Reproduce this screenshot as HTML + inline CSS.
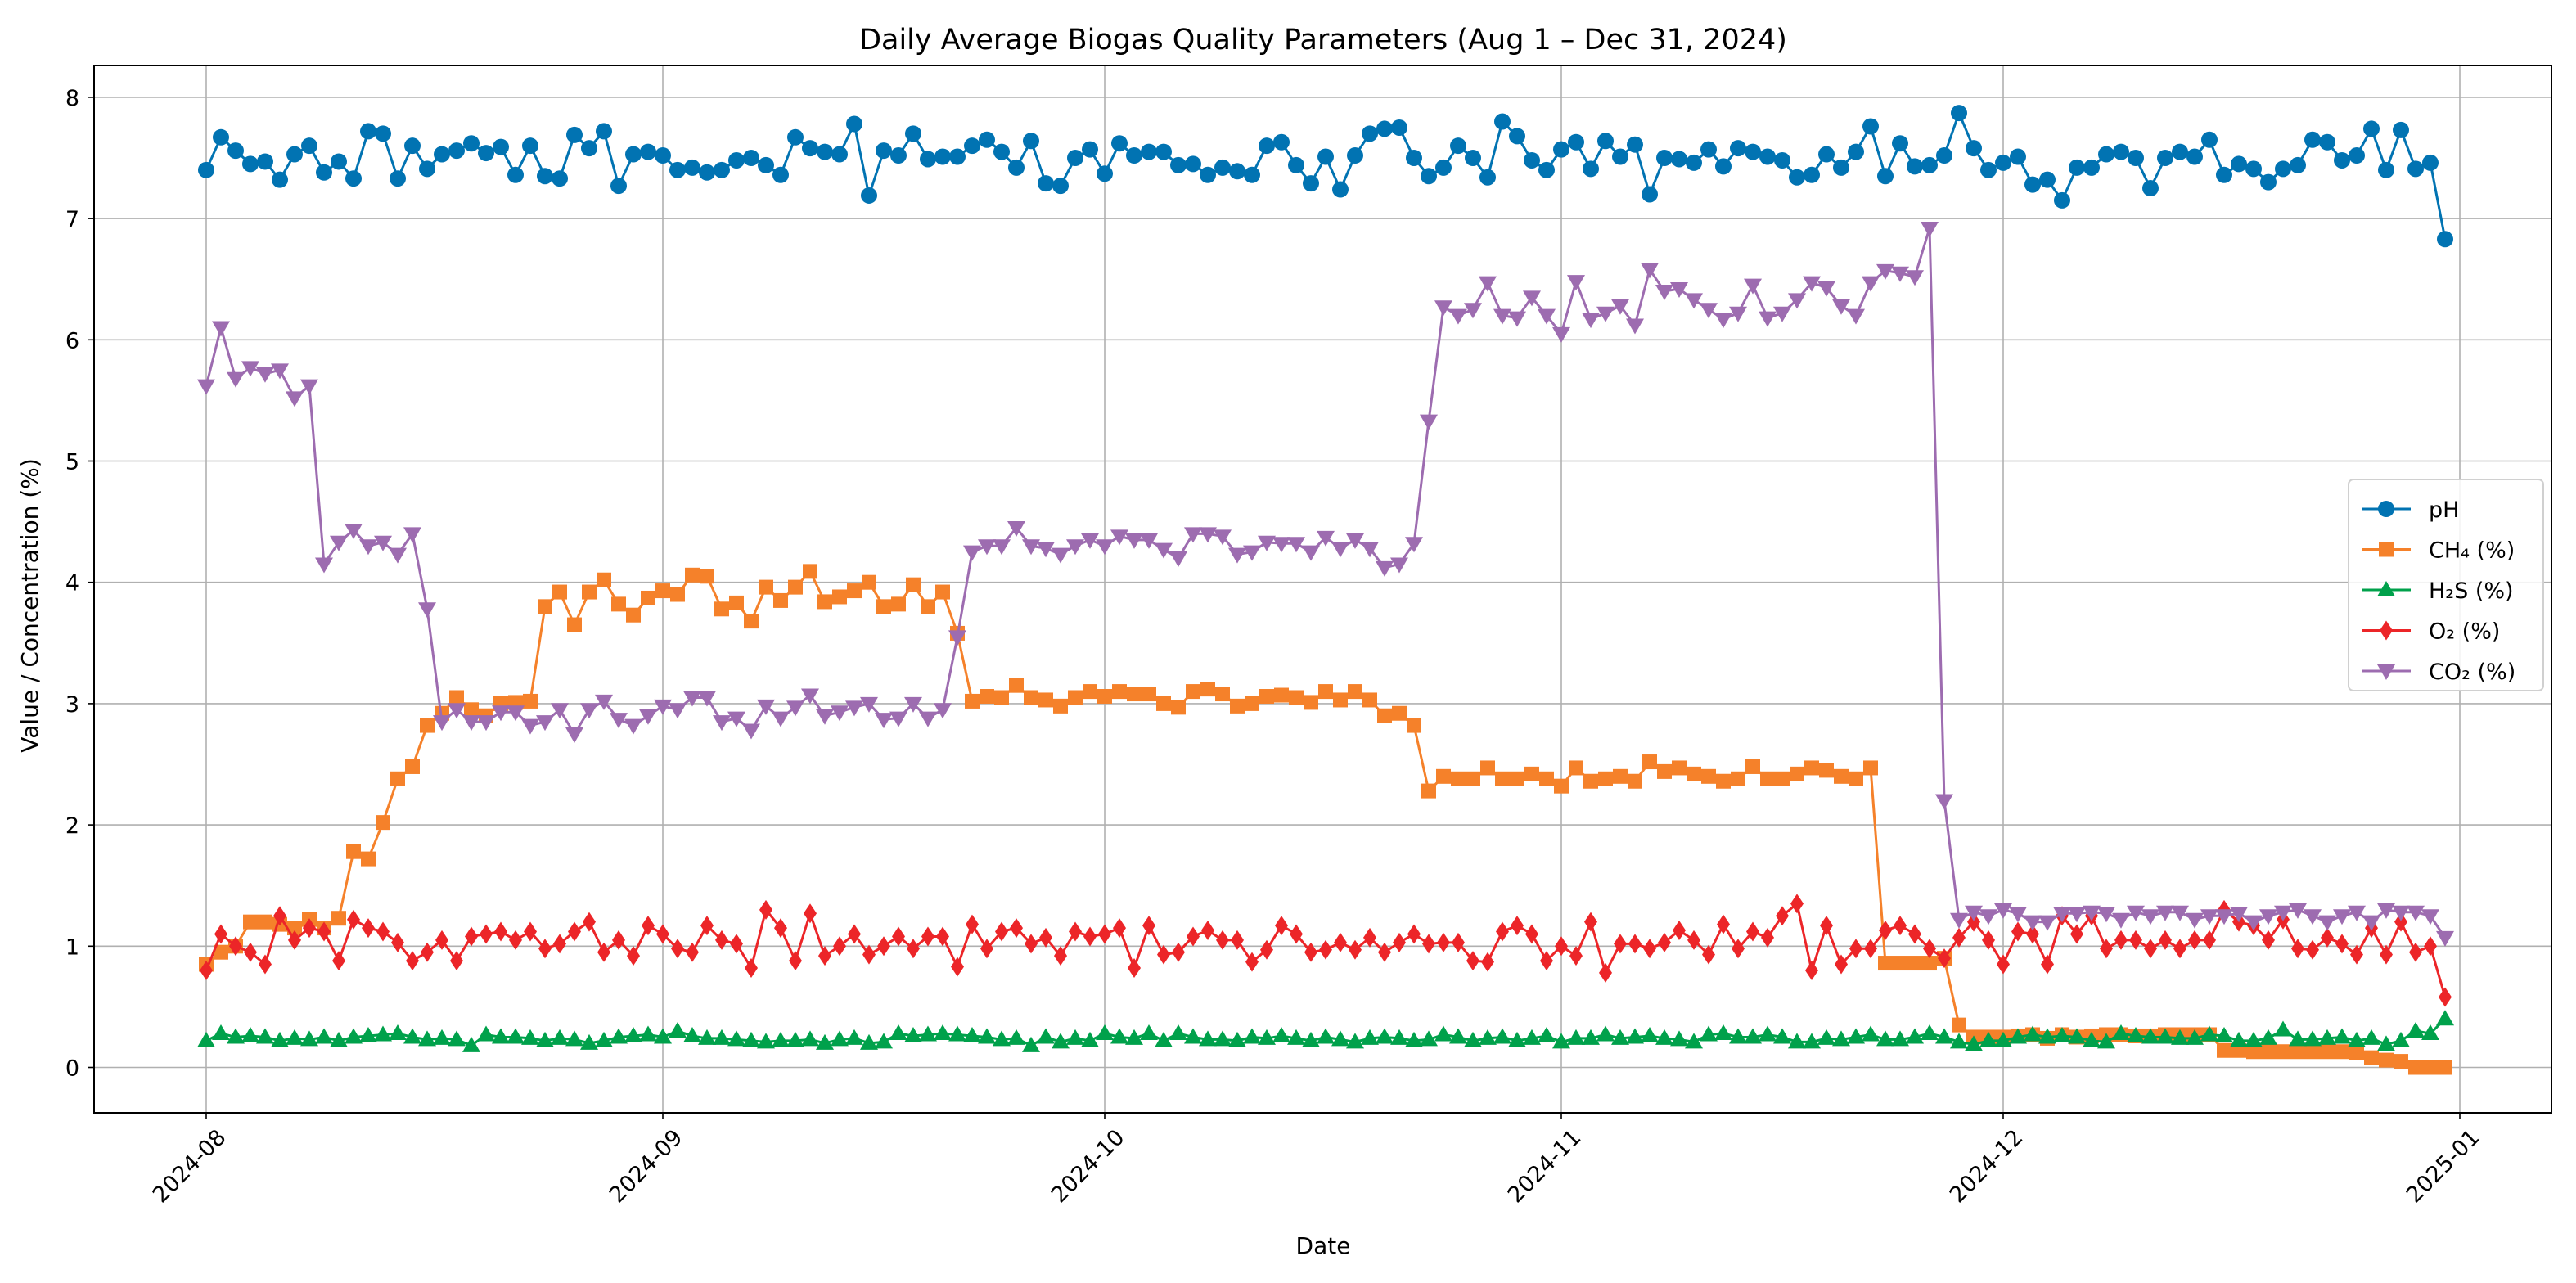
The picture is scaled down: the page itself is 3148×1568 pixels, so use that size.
<!DOCTYPE html>
<html><head><meta charset="utf-8"><style>
html,body{margin:0;padding:0;background:#fff;}
svg{display:block;font-family:"DejaVu Sans","Liberation Sans",sans-serif;}
</style></head><body>
<svg id="chart" width="3148" height="1568" viewBox="0 0 3148 1568" xmlns="http://www.w3.org/2000/svg">
<rect x="0" y="0" width="3148" height="1568" fill="#fff"/>
<text x="1617" y="60" font-size="35" text-anchor="middle" fill="#000">Daily Average Biogas Quality Parameters (Aug 1 – Dec 31, 2024)</text>
<g id="grid"></g>
<g id="series"></g>
<rect x="115" y="80" width="3003" height="1280" fill="none" stroke="#000" stroke-width="2"/>
<g id="axes"></g>
<text x="1617" y="1532" font-size="28" text-anchor="middle">Date</text>
<text transform="translate(46,740) rotate(-90)" font-size="28" text-anchor="middle">Value / Concentration (%)</text>
<g id="legend"></g>
</svg>
<script>
const phVals=[7.40,7.67,7.56,7.45,7.47,7.32,7.53,7.60,7.38,7.47,7.33,7.72,7.70,7.33,7.60,7.41,7.53,7.56,7.62,7.54,7.59,7.36,7.60,7.35,7.33,7.69,7.58,7.72,7.27,7.53,7.55,
7.52,7.40,7.42,7.38,7.40,7.48,7.50,7.44,7.36,7.67,7.58,7.55,7.53,7.78,7.19,7.56,7.52,7.70,7.49,7.51,7.51,7.60,7.65,7.55,7.42,7.64,7.29,7.27,7.50,7.57,
7.37,7.62,7.52,7.55,7.55,7.44,7.45,7.36,7.42,7.39,7.36,7.60,7.63,7.44,7.29,7.51,7.24,7.52,7.70,7.74,7.75,7.50,7.35,7.42,7.60,7.50,7.34,7.80,7.68,7.48,7.40,
7.57,7.63,7.41,7.64,7.51,7.61,7.20,7.50,7.49,7.46,7.57,7.43,7.58,7.55,7.51,7.48,7.34,7.36,7.53,7.42,7.55,7.76,7.35,7.62,7.43,7.44,7.52,7.87,7.58,7.40,
7.46,7.51,7.28,7.32,7.15,7.42,7.42,7.53,7.55,7.50,7.25,7.50,7.55,7.51,7.65,7.36,7.45,7.41,7.30,7.41,7.44,7.65,7.63,7.48,7.52,7.74,7.40,7.73,7.41,7.46,6.83];
const ch4Vals=[0.85,0.95,1.00,1.20,1.20,1.18,1.15,1.22,1.15,1.23,1.78,1.72,2.02,2.38,2.48,2.82,2.92,3.05,2.95,2.90,3.00,3.01,3.02,3.80,3.92,3.65,3.92,4.02,3.82,3.73,3.87,
3.93,3.90,4.06,4.05,3.78,3.83,3.68,3.96,3.85,3.96,4.09,3.84,3.88,3.93,4.00,3.80,3.82,3.98,3.80,3.92,3.58,3.02,3.06,3.05,3.15,3.05,3.03,2.98,3.05,3.10,
3.06,3.10,3.08,3.08,3.00,2.97,3.10,3.12,3.08,2.98,3.00,3.06,3.07,3.05,3.01,3.10,3.03,3.10,3.03,2.90,2.92,2.82,2.28,2.40,2.38,2.38,2.47,2.38,2.38,2.42,2.38,
2.32,2.47,2.36,2.38,2.40,2.36,2.52,2.44,2.47,2.42,2.40,2.36,2.38,2.48,2.38,2.38,2.42,2.47,2.45,2.40,2.38,2.47,0.86,0.86,0.86,0.86,0.90,0.35,0.25,0.25,
0.25,0.26,0.27,0.24,0.27,0.25,0.26,0.27,0.27,0.26,0.26,0.27,0.27,0.27,0.27,0.14,0.14,0.13,0.13,0.13,0.13,0.13,0.13,0.13,0.12,0.08,0.06,0.05,0.00,0.00,0.00];
const h2sVals=[0.22,0.28,0.25,0.26,0.25,0.22,0.24,0.23,0.25,0.22,0.25,0.26,0.27,0.28,0.25,0.23,0.24,0.23,0.18,0.27,0.25,0.25,0.24,0.22,0.24,0.23,0.20,0.22,0.25,0.26,0.27,
0.25,0.30,0.26,0.24,0.24,0.23,0.22,0.21,0.22,0.22,0.23,0.20,0.23,0.24,0.20,0.21,0.28,0.26,0.27,0.28,0.27,0.26,0.25,0.23,0.24,0.18,0.25,0.21,0.24,0.22,
0.28,0.25,0.24,0.28,0.22,0.28,0.25,0.23,0.23,0.22,0.25,0.24,0.26,0.24,0.22,0.25,0.23,0.21,0.24,0.25,0.24,0.22,0.23,0.27,0.25,0.22,0.24,0.25,0.22,0.24,0.26,
0.21,0.24,0.24,0.27,0.24,0.25,0.26,0.24,0.23,0.21,0.27,0.28,0.25,0.25,0.27,0.25,0.21,0.21,0.24,0.23,0.25,0.27,0.23,0.23,0.25,0.28,0.25,0.21,0.19,0.22,
0.22,0.25,0.27,0.25,0.26,0.25,0.22,0.21,0.28,0.26,0.25,0.25,0.24,0.24,0.27,0.26,0.22,0.22,0.24,0.31,0.23,0.23,0.24,0.25,0.22,0.24,0.19,0.22,0.30,0.28,0.40];
const o2Vals=[0.80,1.10,1.00,0.95,0.85,1.25,1.05,1.15,1.12,0.88,1.22,1.15,1.12,1.03,0.88,0.95,1.05,0.88,1.08,1.10,1.12,1.05,1.12,0.98,1.02,1.12,1.20,0.95,1.05,0.92,1.17,
1.10,0.98,0.95,1.17,1.05,1.02,0.82,1.30,1.15,0.88,1.27,0.92,1.00,1.10,0.93,1.00,1.08,0.98,1.08,1.08,0.83,1.18,0.98,1.12,1.15,1.02,1.07,0.92,1.12,1.08,
1.10,1.15,0.82,1.17,0.93,0.95,1.08,1.13,1.05,1.05,0.87,0.97,1.17,1.10,0.95,0.97,1.03,0.97,1.07,0.95,1.03,1.10,1.02,1.03,1.03,0.88,0.87,1.12,1.17,1.10,0.88,
1.00,0.92,1.20,0.78,1.02,1.02,0.98,1.03,1.13,1.05,0.93,1.18,0.98,1.12,1.07,1.25,1.35,0.80,1.17,0.85,0.98,0.98,1.13,1.17,1.10,0.98,0.90,1.07,1.20,1.05,
0.85,1.12,1.10,0.85,1.25,1.10,1.25,0.98,1.05,1.05,0.98,1.05,0.98,1.05,1.05,1.30,1.20,1.17,1.05,1.22,0.98,0.97,1.07,1.02,0.93,1.15,0.93,1.20,0.95,1.00,0.58];
const co2Vals=[5.62,6.10,5.68,5.77,5.72,5.75,5.52,5.62,4.15,4.33,4.43,4.30,4.33,4.23,4.40,3.78,2.85,2.95,2.85,2.85,2.93,2.93,2.82,2.85,2.95,2.75,2.95,3.02,2.87,2.82,2.90,
2.98,2.95,3.05,3.05,2.85,2.88,2.78,2.98,2.88,2.97,3.07,2.90,2.93,2.97,3.00,2.87,2.88,3.00,2.88,2.95,3.55,4.25,4.30,4.30,4.45,4.30,4.28,4.23,4.30,4.35,
4.30,4.38,4.35,4.35,4.27,4.20,4.40,4.40,4.38,4.23,4.25,4.33,4.32,4.32,4.25,4.37,4.28,4.35,4.28,4.12,4.15,4.32,5.33,6.27,6.20,6.25,6.47,6.20,6.18,6.35,6.20,
6.05,6.48,6.17,6.22,6.28,6.12,6.58,6.40,6.42,6.33,6.25,6.17,6.22,6.45,6.18,6.22,6.33,6.47,6.43,6.28,6.20,6.47,6.57,6.55,6.52,6.92,2.20,1.22,1.28,1.25,
1.30,1.27,1.20,1.20,1.27,1.27,1.28,1.27,1.22,1.28,1.25,1.28,1.28,1.22,1.25,1.25,1.27,1.20,1.25,1.28,1.30,1.25,1.20,1.25,1.28,1.20,1.30,1.28,1.28,1.25,1.07];
const xTickLabels=["2024-08","2024-09","2024-10","2024-11","2024-12","2025-01"];
const xTickDays=[0,31,61,92,122,153];
const yTickValues=[0,1,2,3,4,5,6,7,8];
const seriesNames=["pH","CH₄ (%)","H₂S (%)","O₂ (%)","CO₂ (%)"];

const NS="http://www.w3.org/2000/svg";
const X0=252, DAY=18.0, Y0=1304.5, UNIT=148.2;
function xs(i){return X0+i*DAY;}
function ys(v){return Y0-v*UNIT;}
function mk(tag,attrs,parent){const e=document.createElementNS(NS,tag);for(const k in attrs)e.setAttribute(k,attrs[k]);parent.appendChild(e);return e;}
const grid=document.getElementById('grid'),axes=document.getElementById('axes'),ser=document.getElementById('series'),leg=document.getElementById('legend');

yTickValues.forEach(v=>{
  const g=mk('line',{x1:115,x2:3118,y1:ys(v),y2:ys(v),stroke:'#b0b0b0','stroke-width':1.6},grid);
  
  
  mk('line',{x1:107,x2:115,y1:ys(v),y2:ys(v),stroke:'#000','stroke-width':1.6},axes);
  const t=mk('text',{x:97,y:ys(v)+10,'font-size':27,'text-anchor':'end'},axes);
  t.textContent=v;
  
  
});
xTickDays.forEach((d,k)=>{
  const x=xs(d);
  const g=mk('line',{x1:x,x2:x,y1:80,y2:1360,stroke:'#b0b0b0','stroke-width':1.6},grid);
  
  
  mk('line',{x1:x,x2:x,y1:1360,y2:1368,stroke:'#000','stroke-width':1.6},axes);
  const t=mk('text',{transform:`translate(${x+12},${1378}) rotate(-45)`,'font-size':27,'text-anchor':'end','dominant-baseline':'hanging'},axes);
  t.textContent=xTickLabels[k];
  
  
});

function marker(type,x,y,color,parent){
  let e;
  if(type==='circle') e=mk('circle',{cx:x,cy:y,r:10,fill:color},parent);
  else if(type==='square') e=mk('rect',{x:x-9,y:y-9,width:18,height:18,fill:color},parent);
  else if(type==='up') e=mk('polygon',{points:`${x},${y-11} ${x+11},${y+8} ${x-11},${y+8}`,fill:color},parent);
  else if(type==='diamond') e=mk('polygon',{points:`${x},${y-12} ${x+8},${y} ${x},${y+12} ${x-8},${y}`,fill:color},parent);
  else e=mk('polygon',{points:`${x},${y+11} ${x+11},${y-8} ${x-11},${y-8}`,fill:color},parent);
  return e;
}
const defs=[
 {vals:phVals,color:'#0173b2',m:'circle',name:'ph'},
 {vals:ch4Vals,color:'#f5812a',m:'square',name:'ch4'},
 {vals:h2sVals,color:'#00a14b',m:'up',name:'h2s'},
 {vals:o2Vals,color:'#ec2528',m:'diamond',name:'o2'},
 {vals:co2Vals,color:'#9d6cb0',m:'down',name:'co2'}];
defs.forEach(s=>{
  const g=mk('g',{},ser);
  
  
  const pts=s.vals.map((v,i)=>xs(i)+','+ys(v)).join(' ');
  const l=mk('polyline',{points:pts,fill:'none',stroke:s.color,'stroke-width':3,'stroke-linejoin':'round'},g);
  
  
  s.vals.forEach((v,i)=>{
    const p=marker(s.m,xs(i),ys(v),s.color,g);
    
    
  });
});

const lb=mk('rect',{x:2870,y:586,width:238,height:258,rx:6,fill:'#fff','fill-opacity':0.85,stroke:'#d0d0d0','stroke-width':2},leg);


defs.forEach((s,k)=>{
  const y=622+k*49.5;
  const g=mk('g',{},leg);
  
  
  mk('line',{x1:2886,x2:2946,y1:y,y2:y,stroke:s.color,'stroke-width':3},g);
  marker(s.m,2916,y,s.color,g);
  const t=mk('text',{x:2968,y:y+10,'font-size':27},g);
  t.textContent=seriesNames[k];
});
</script>
</body></html>
